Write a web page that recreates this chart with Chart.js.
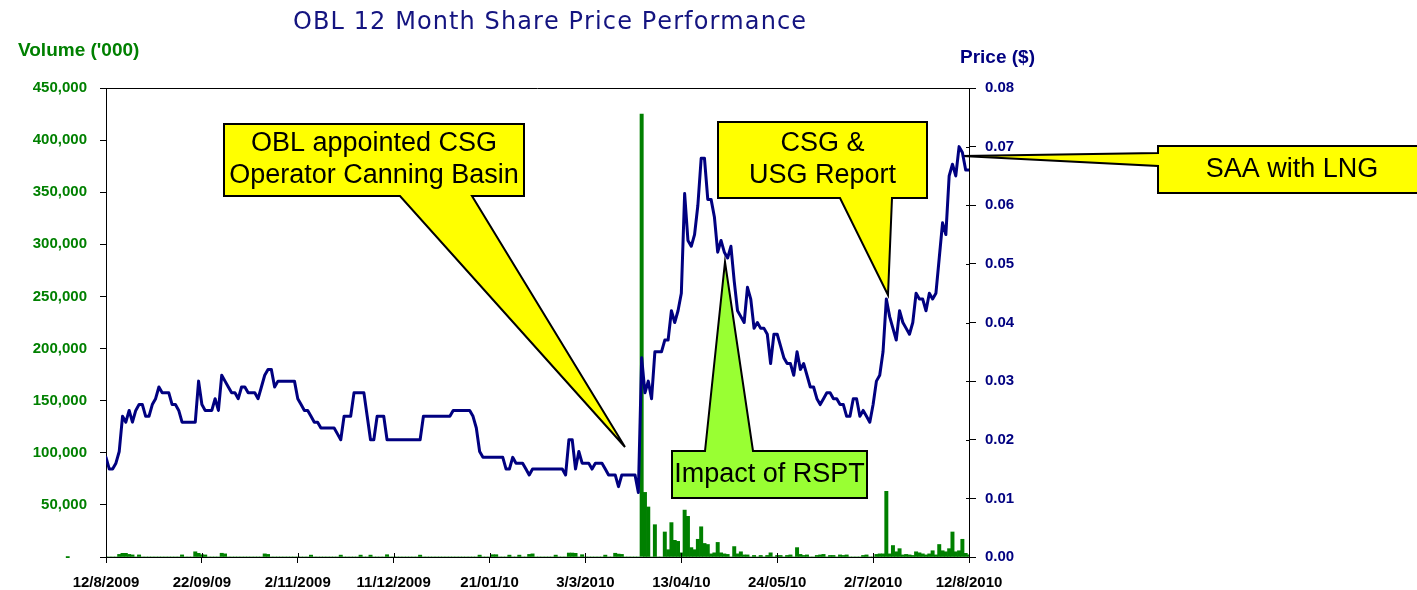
<!DOCTYPE html>
<html>
<head>
<meta charset="utf-8">
<title>OBL 12 Month Share Price Performance</title>
<script src="https://cdn.jsdelivr.net/npm/chart.js@4.4.1/dist/chart.umd.min.js"></script>
<style>
  body { margin: 0; background: #fff; }
  #wrap { width: 1417px; height: 590px; }
</style>
</head>
<body>
<div id="wrap"><canvas id="chart" width="1417" height="590"></canvas></div>
<script>
// one value per trading day, 12/8/2009 .. 12/8/2010
const tickLabels = ['12/8/2009', '22/09/09', '2/11/2009', '11/12/2009', '21/01/10',
                    '3/3/2010', '13/04/10', '24/05/10', '2/7/2010', '12/8/2010'];
const daysPerTick = 29;

// closing price ($)
const price = [
  0.017,0.015,0.015,0.016,0.018,0.024,0.023,0.025,0.023,0.025,
  0.026,0.026,0.024,0.024,0.026,0.027,0.029,0.028,0.028,0.028,
  0.026,0.026,0.025,0.023,0.023,0.023,0.023,0.023,0.030,0.026,
  0.025,0.025,0.025,0.027,0.025,0.031,0.030,0.029,0.028,0.028,
  0.027,0.029,0.029,0.028,0.028,0.028,0.027,0.029,0.031,0.032,
  0.032,0.029,0.030,0.030,0.030,0.030,0.030,0.030,0.027,0.026,
  0.025,0.025,0.024,0.023,0.023,0.022,0.022,0.022,0.022,0.022,
  0.021,0.020,0.024,0.024,0.024,0.028,0.028,0.028,0.028,0.024,
  0.020,0.020,0.024,0.024,0.024,0.020,0.020,0.020,0.020,0.020,
  0.020,0.020,0.020,0.020,0.020,0.020,0.024,0.024,0.024,0.024,
  0.024,0.024,0.024,0.024,0.024,0.025,0.025,0.025,0.025,0.025,
  0.025,0.024,0.022,0.018,0.017,0.017,0.017,0.017,0.017,0.017,
  0.017,0.015,0.015,0.017,0.016,0.016,0.016,0.015,0.014,0.015,
  0.015,0.015,0.015,0.015,0.015,0.015,0.015,0.015,0.015,0.014,
  0.020,0.020,0.015,0.018,0.016,0.016,0.016,0.015,0.016,0.016,
  0.016,0.015,0.014,0.014,0.014,0.012,0.014,0.014,0.014,0.014,
  0.014,0.011,0.034,0.028,0.030,0.027,0.035,0.035,0.035,0.037,
  0.037,0.042,0.040,0.042,0.045,0.062,0.054,0.053,0.055,0.060,
  0.068,0.068,0.061,0.061,0.058,0.052,0.054,0.052,0.051,0.053,
  0.047,0.042,0.041,0.040,0.046,0.044,0.039,0.040,0.039,0.039,
  0.038,0.033,0.038,0.038,0.036,0.034,0.033,0.033,0.031,0.035,
  0.032,0.033,0.031,0.029,0.029,0.027,0.026,0.027,0.028,0.028,
  0.027,0.027,0.026,0.026,0.024,0.024,0.027,0.027,0.024,0.025,
  0.024,0.023,0.026,0.030,0.031,0.035,0.044,0.041,0.039,0.037,
  0.042,0.040,0.039,0.038,0.040,0.045,0.044,0.044,0.042,0.045,
  0.044,0.045,0.051,0.057,0.055,0.065,0.067,0.065,0.070,0.069,
  0.066,0.066
];

// volume traded
const volume = [
  0,0,0,0,2500,3500,3500,2500,2000,0,
  2000,0,0,0,0,0,0,0,0,0,
  0,0,0,2000,0,0,0,5000,3500,2200,
  2000,0,0,0,0,3600,3000,0,0,0,
  0,0,0,0,0,0,0,0,3000,2500,
  0,0,0,0,0,0,0,0,0,0,
  0,0,1800,0,0,0,0,0,0,0,
  0,1800,0,0,0,0,0,1800,0,0,
  1800,0,0,0,0,2200,0,0,0,0,
  0,0,0,0,0,1800,0,0,0,0,
  0,0,0,0,0,0,0,0,0,0,
  0,0,0,1800,0,0,0,2200,2200,0,
  0,0,1800,0,0,1800,0,0,2500,3000,
  0,0,0,0,0,0,1800,0,0,0,
  3800,3800,3500,0,2200,0,0,0,0,0,
  0,1800,0,0,3600,2800,2500,0,0,0,
  0,0,425000,62000,48000,0,31000,0,0,24000,
  7000,33000,16000,15000,4000,45000,39000,9000,7000,17000,
  29000,13000,12000,3000,4000,14000,4000,3000,2500,0,
  10000,3000,5000,2000,2000,0,1500,0,1500,0,
  1500,4000,0,1500,1500,0,1500,2000,0,9000,
  2500,1500,2000,0,0,1500,2000,2500,0,1500,
  1500,0,2000,1500,2000,0,0,0,0,1500,
  2000,0,0,2500,3000,3000,63000,3000,11000,5000,
  8000,2000,2500,2000,1500,5000,4000,3000,2000,3000,
  6000,2000,12000,6000,5000,8000,24000,5000,6000,17000,
  3500,2000
];

const titleText = 'OBL 12 Month Share Price Performance';

// callout boxes (canvas pixels)
const callouts = [
  { lines: ['OBL appointed CSG', 'Operator Canning Basin'], box: [224, 124, 524, 196],
    side: 'bottom', base: [400, 472], tip: [625, 447], fill: '#ffff00' },
  { lines: ['CSG &', 'USG Report'], box: [718, 122, 927, 198],
    side: 'bottom', base: [840, 892], tip: [888, 295], fill: '#ffff00' },
  { lines: ['Impact of RSPT'], box: [672, 451, 867, 498],
    side: 'top', base: [705, 753], tip: [725, 262], fill: '#99ff33' },
  { lines: ['SAA with LNG'], box: [1158, 146, 1440, 193],
    side: 'left', base: [153, 166], tip: [962, 156], fill: '#ffff00' }
];

function calloutPath(ctx, c) {
  const [x1, y1, x2, y2] = c.box;
  ctx.beginPath();
  ctx.moveTo(x1, y1);
  if (c.side === 'top') {
    ctx.lineTo(c.base[0], y1); ctx.lineTo(c.tip[0], c.tip[1]); ctx.lineTo(c.base[1], y1);
  }
  ctx.lineTo(x2, y1);
  ctx.lineTo(x2, y2);
  if (c.side === 'bottom') {
    ctx.lineTo(c.base[1], y2); ctx.lineTo(c.tip[0], c.tip[1]); ctx.lineTo(c.base[0], y2);
  }
  ctx.lineTo(x1, y2);
  if (c.side === 'left') {
    ctx.lineTo(x1, c.base[1]); ctx.lineTo(c.tip[0], c.tip[1]); ctx.lineTo(x1, c.base[0]);
  }
  ctx.closePath();
}

const decor = {
  id: 'decor',
  beforeDatasetsDraw(chart) {
    const ctx = chart.ctx;
    ctx.save();
    callouts.forEach(c => {
      calloutPath(ctx, c);
      ctx.fillStyle = c.fill;
      ctx.fill();
      ctx.lineWidth = 2;
      ctx.strokeStyle = '#000';
      ctx.lineJoin = 'miter';
      ctx.stroke();
      ctx.fillStyle = '#000';
      ctx.font = '27px "Liberation Sans", Arial, sans-serif';
      ctx.textAlign = 'center';
      ctx.textBaseline = 'middle';
      const cx = (c.box[0] + Math.min(c.box[2], 1427)) / 2;
      const cy = (c.box[1] + c.box[3]) / 2;
      const lh = 32;
      c.lines.forEach((t, i) => {
        ctx.fillText(t, c.side === 'left' ? 1292 : cx, cy + (i - (c.lines.length - 1) / 2) * lh);
      });
    });
    ctx.restore();
  },
  afterDraw(chart) {
    const ctx = chart.ctx;
    const a = chart.chartArea;
    const xs = chart.scales.x, yr = chart.scales.y1;
    ctx.save();
    ctx.strokeStyle = '#000';
    ctx.lineWidth = 1;
    // top border of plot
    ctx.beginPath();
    ctx.moveTo(a.left, a.top + 0.5);
    ctx.lineTo(a.right, a.top + 0.5);
    ctx.stroke();
    // inner halves of crossing tick marks
    ctx.beginPath();
    xs.ticks.forEach((t, i) => {
      const px = Math.round(xs.getPixelForTick(i)) + 0.5;
      ctx.moveTo(px, a.bottom - 4);
      ctx.lineTo(px, a.bottom);
    });
    yr.ticks.forEach((t, i) => {
      const py = Math.round(yr.getPixelForTick(i)) + 0.5;
      ctx.moveTo(a.right - 3, py);
      ctx.lineTo(a.right, py);
    });
    ctx.stroke();

    // title
    ctx.fillStyle = '#141480';
    ctx.font = '24px "DejaVu Sans", Verdana, sans-serif';
    ctx.textBaseline = 'alphabetic';
    ctx.textAlign = 'left';
    const chars = [...titleText];
    const widths = chars.map(ch => ctx.measureText(ch).width);
    const total = widths.reduce((s, w) => s + w, 0);
    const left = 293, right = 806;
    const gap = (right - left - total) / (chars.length - 1);
    let x = left;
    chars.forEach((ch, i) => { ctx.fillText(ch, x, 29); x += widths[i] + gap; });

    // axis titles
    ctx.font = 'bold 19px "Liberation Sans", Arial, sans-serif';
    ctx.fillStyle = '#008000';
    ctx.fillText("Volume ('000)", 18, 56);
    ctx.fillStyle = '#000080';
    ctx.fillText('Price ($)', 960, 63);
    ctx.restore();
  }
};

const ctx = document.getElementById('chart').getContext('2d');
new Chart(ctx, {
  type: 'bar',
  data: {
    datasets: [
      {
        type: 'line',
        label: 'Price',
        data: price.map((p, i) => ({ x: i, y: p })),
        yAxisID: 'y1',
        borderColor: '#000080',
        borderWidth: 3,
        borderJoinStyle: 'round',
        borderCapStyle: 'round',
        pointRadius: 0,
        tension: 0,
        order: 0
      },
      {
        type: 'bar',
        label: 'Volume',
        data: volume.map((v, i) => ({ x: i, y: v })),
        yAxisID: 'y',
        backgroundColor: '#008000',
        borderWidth: 0,
        barPercentage: 1,
        categoryPercentage: 1,
        order: 1
      }
    ]
  },
  options: {
    responsive: false,
    animation: false,
    layout: { padding: { top: 88, left: 0, right: 0, bottom: 0 } },
    plugins: { legend: { display: false }, tooltip: { enabled: false }, title: { display: false } },
    scales: {
      x: {
        type: 'linear',
        offset: false,
        min: 0,
        max: price.length - 1,
        afterFit: s => { s.height = 33; },
        border: { display: true, color: '#000', width: 1 },
        grid: { offset: false, drawOnChartArea: false, drawTicks: true, tickLength: 6, color: '#000' },
        ticks: {
          stepSize: daysPerTick,
          autoSkip: false,
          maxRotation: 0,
          padding: 11,
          color: '#000',
          font: { family: '"Liberation Sans", Arial, sans-serif', size: 15, weight: 'bold' },
          callback: v => (v % daysPerTick === 0 ? tickLabels[v / daysPerTick] : null)
        }
      },
      y: {
        position: 'left',
        min: 0,
        max: 450000,
        afterFit: s => { s.width = 106; },
        border: { display: true, color: '#000', width: 1 },
        grid: { drawOnChartArea: false, drawTicks: true, tickLength: 6, color: '#000' },
        ticks: {
          stepSize: 50000,
          padding: 13,
          color: '#008000',
          font: { family: '"Liberation Sans", Arial, sans-serif', size: 15, weight: 'bold' },
          callback: v => (v === 0 ? '-    ' : v.toLocaleString('en-US'))
        }
      },
      y1: {
        position: 'right',
        min: 0,
        max: 0.08,
        afterFit: s => { s.width = 1417 - 969; },
        border: { display: true, color: '#000', width: 1 },
        grid: { drawOnChartArea: false, drawTicks: true, tickLength: 7, color: '#000' },
        ticks: {
          stepSize: 0.01,
          padding: 9,
          color: '#000080',
          font: { family: '"Liberation Sans", Arial, sans-serif', size: 15, weight: 'bold' },
          callback: v => v.toFixed(2)
        }
      }
    }
  },
  plugins: [decor]
});
</script>
</body>
</html>
